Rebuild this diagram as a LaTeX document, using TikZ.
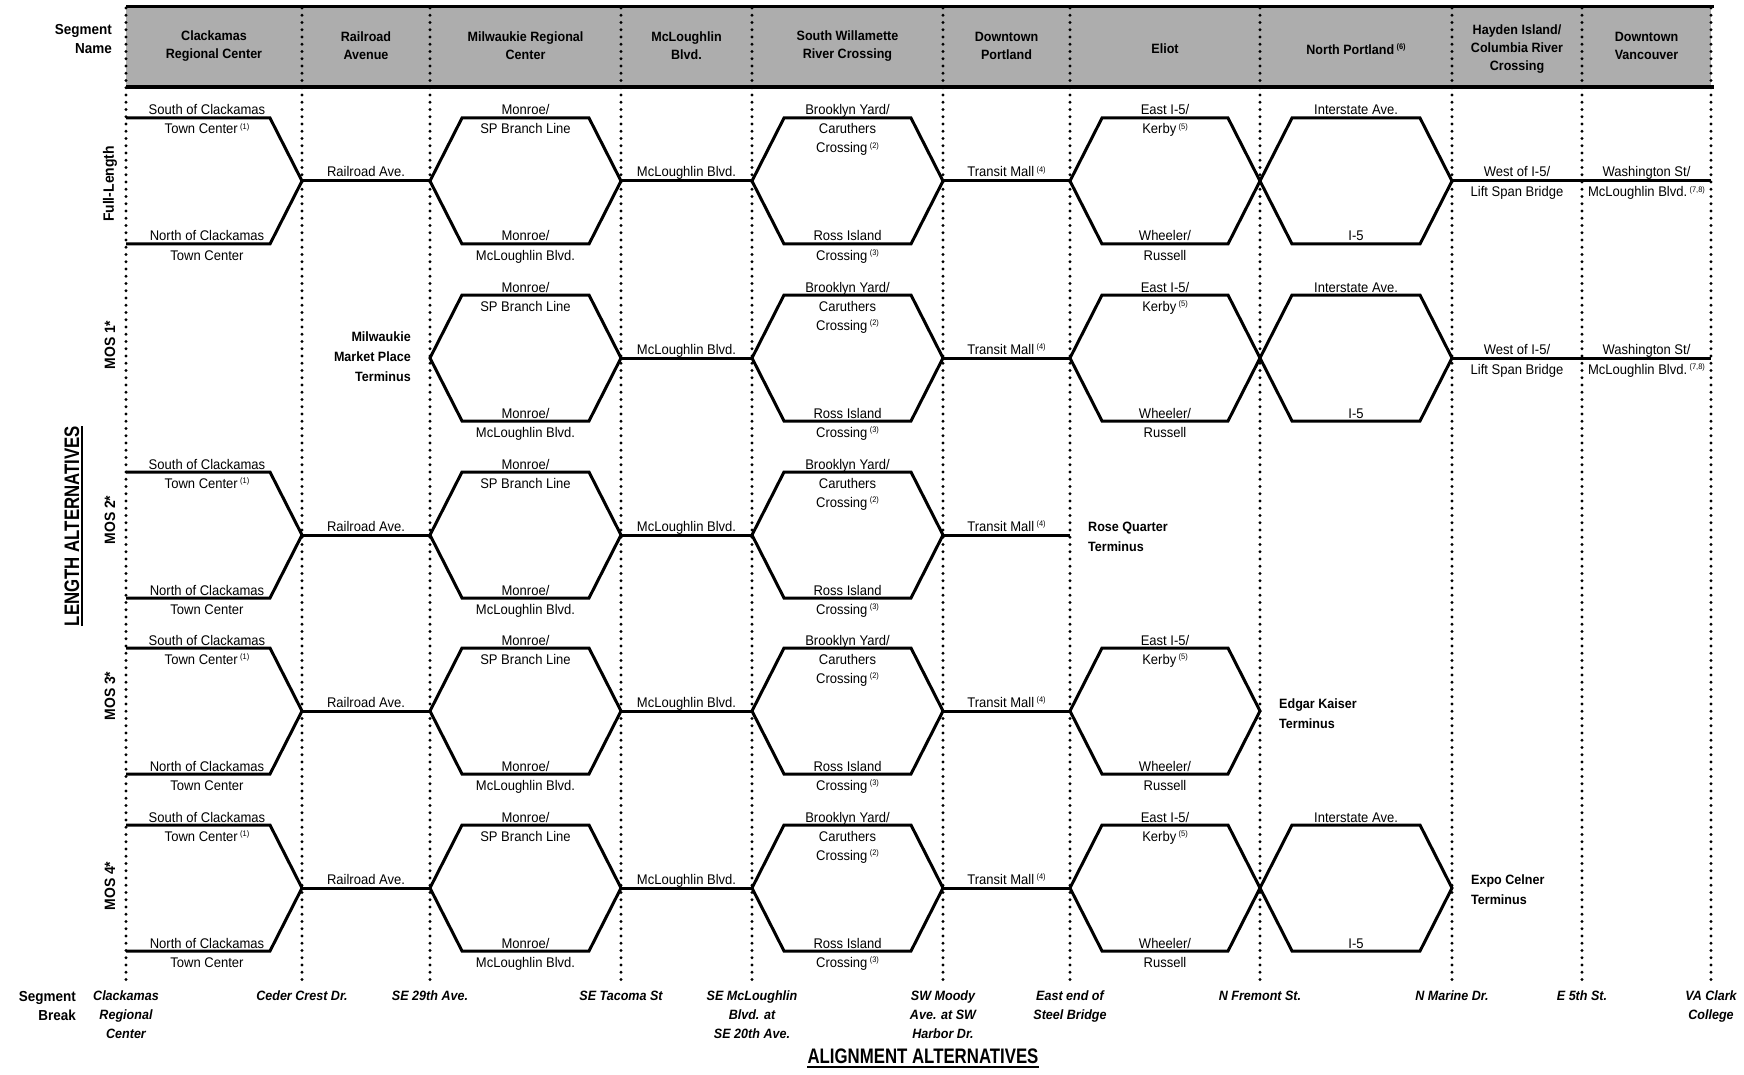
\documentclass[tikz,border=0pt]{standalone}
\usepackage{fontspec}
\setmainfont{Liberation Sans}[FakeStretch=0.93]
\newfontfamily\titlef{Liberation Sans}[FakeStretch=0.8]
\usetikzlibrary{calc}
\newcommand\fnm[1]{\,\raisebox{4.5pt}{\fontsize{8}{8}\selectfont(#1)}}
\newcommand\hexseg[3]{\draw[route] (r#1-#2) -- ($(r#1-#2)+(32,-63)$) -- ($(r#1-#3)+(-32,-63)$) -- (r#1-#3) -- ($(r#1-#3)+(-32,63)$) -- ($(r#1-#2)+(32,63)$) -- cycle;}
\newcommand\straightseg[3]{\draw[route] (r#1-#2) -- (r#1-#3);}
\newcommand\clack[1]{%
 \draw[route] ($(r#1-1)+(0,-63)$) -- ($(r#1-2)+(-32,-63)$) -- (r#1-2) -- ($(r#1-2)+(-32,63)$) -- ($(r#1-1)+(0,63)$);
 \coordinate (cm#1) at ($(r#1-1)+(81,0)$);
 \node[lbl] (cla#1) at ($(cm#1)+(0,-66)$) {South of Clackamas};
 \node[lbl] (clb#1) at ($(cm#1)+(0,-47)$) {Town Center\fnm{1}};
 \node[lbl] (clc#1) at ($(cm#1)+(0,60)$) {North of Clackamas};
 \node[lbl] (cld#1) at ($(cm#1)+(0,79)$) {Town Center};
 \straightseg{#1}{2}{3}
 \node[lbl] (rra#1) at ($(r#1-2)!.5!(r#1-3)+(0,-4)$) {Railroad Ave.};}
\newcommand\milw[1]{%
 \hexseg{#1}{3}{4}
 \coordinate (mm#1) at ($(r#1-3)!.5!(r#1-4)$);
 \node[lbl] (mwa#1) at ($(mm#1)+(0,-66)$) {Monroe/};
 \node[lbl] (mwb#1) at ($(mm#1)+(0,-47)$) {SP Branch Line};
 \node[lbl] (mwc#1) at ($(mm#1)+(0,60)$) {Monroe/};
 \node[lbl] (mwd#1) at ($(mm#1)+(0,79)$) {McLoughlin Blvd.};}
\newcommand\mcl[1]{%
 \straightseg{#1}{4}{5}
 \node[lbl] (mcl#1) at ($(r#1-4)!.5!(r#1-5)+(0,-4)$) {McLoughlin Blvd.};}
\newcommand\swr[1]{%
 \hexseg{#1}{5}{6}
 \coordinate (sm#1) at ($(r#1-5)!.5!(r#1-6)$);
 \node[lbl] (swa#1) at ($(sm#1)+(0,-66)$) {Brooklyn Yard/};
 \node[lbl] (swb#1) at ($(sm#1)+(0,-47)$) {Caruthers};
 \node[lbl] (swc#1) at ($(sm#1)+(0,-28)$) {Crossing\fnm{2}};
 \node[lbl] (swd#1) at ($(sm#1)+(0,60)$) {Ross Island};
 \node[lbl] (swe#1) at ($(sm#1)+(0,79)$) {Crossing\fnm{3}};}
\newcommand\transit[1]{%
 \straightseg{#1}{6}{7}
 \node[lbl] (tm#1) at ($(r#1-6)!.5!(r#1-7)+(0,-4)$) {Transit Mall\fnm{4}};}
\newcommand\eliot[1]{%
 \hexseg{#1}{7}{8}
 \coordinate (em#1) at ($(r#1-7)!.5!(r#1-8)$);
 \node[lbl] (ela#1) at ($(em#1)+(0,-66)$) {East I-5/};
 \node[lbl] (elb#1) at ($(em#1)+(0,-47)$) {Kerby\fnm{5}};
 \node[lbl] (elc#1) at ($(em#1)+(0,60)$) {Wheeler/};
 \node[lbl] (eld#1) at ($(em#1)+(0,79)$) {Russell};}
\newcommand\nport[1]{%
 \hexseg{#1}{8}{9}
 \coordinate (nm#1) at ($(r#1-8)!.5!(r#1-9)$);
 \node[lbl] (npa#1) at ($(nm#1)+(0,-66)$) {Interstate Ave.};
 \node[lbl] (npb#1) at ($(nm#1)+(0,60)$) {I-5};}
\newcommand\westseg[1]{%
 \straightseg{#1}{9}{11}
 \node[lbl] (wa#1) at ($(r#1-9)!.5!(r#1-10)+(0,-4)$) {West of I-5/};
 \node[lbl] (wb#1) at ($(r#1-9)!.5!(r#1-10)+(0,16)$) {Lift Span Bridge};
 \node[lbl] (wc#1) at ($(r#1-10)!.5!(r#1-11)+(0,-4)$) {Washington St/};
 \node[lbl] (wd#1) at ($(r#1-10)!.5!(r#1-11)+(0,16)$) {McLoughlin Blvd.\fnm{7,8}};}
\begin{document}
\begin{tikzpicture}[x=1pt,y=-1pt,
  route/.style={line width=3pt, line join=miter},
  dotl/.style={line width=3.3pt, line cap=round, dash pattern=on 0pt off 7.25pt},
  lbl/.style={font=\fontsize{14}{16}\selectfont, inner sep=0pt, anchor=base},
  hdr/.style={font=\bfseries\fontsize{13.5}{18}\selectfont, align=center, inner sep=0pt},
  brk/.style={font=\bfseries\itshape\fontsize{13.5}{19}\selectfont, align=center, inner sep=0pt, anchor=north},
  term/.style={font=\bfseries\fontsize{13.5}{20}\selectfont, inner sep=0pt},
  rowl/.style={font=\bfseries\fontsize{15}{17}\selectfont, rotate=90, inner sep=0pt},
  sidel/.style={font=\bfseries\fontsize{14.5}{19}\selectfont, align=right, inner sep=0pt, anchor=north east},
  bigt/.style={font=\titlef\bfseries\fontsize{21}{21}\selectfont, inner sep=0pt}]
\useasboundingbox (0,0) rectangle (1744,1075);
\fill[white] (0,0) rectangle (1744,1075);
% header band
\fill[black!32] (126,7) rectangle (1711,87);
\draw[line width=3pt] (126,7) -- (1714,7);
\draw[line width=3.4pt] (126,87) -- (1714,87);
% junction coordinates
\foreach \r/\y in {1/181,2/358,3/535,4/711,5/888}{
  \foreach \c/\x in {1/126,2/302,3/430,4/621,5/752,6/943,7/1070,8/1260,9/1452,10/1582,11/1711}{
    \coordinate (r\r-\c) at (\x,\y);
  }
}
% dotted segment breaks
\foreach \x in {126,302,430,621,752,943,1070,1260,1452,1582,1711}{
  \draw[dotl] (\x,8) -- (\x,984);
}
% header labels
\node[hdr] (h1) at (214,46) {Clackamas\\Regional Center};
\node[hdr] (h2) at (366,46) {Railroad\\Avenue};
\node[hdr] (h3) at (525.5,46) {Milwaukie Regional\\Center};
\node[hdr] (h4) at (686.5,46) {McLoughlin\\Blvd.};
\node[hdr] (h5) at (847.5,46) {South Willamette\\River Crossing};
\node[hdr] (h6) at (1006.5,46) {Downtown\\Portland};
\node[hdr] (h7) at (1165,49) {Eliot};
\node[hdr] (h8) at (1356,49) {North Portland\fnm{6}};
\node[hdr] (h9) at (1517,49) {Hayden Island/\\Columbia River\\Crossing};
\node[hdr] (h10) at (1646.5,46) {Downtown\\Vancouver};
\node[sidel] (segname) at (112,24.5) {Segment\\Name};
% row 1 full-length
\clack{1}\milw{1}\mcl{1}\swr{1}\transit{1}\eliot{1}\nport{1}\westseg{1}
% row 2 MOS 1
\milw{2}\mcl{2}\swr{2}\transit{2}\eliot{2}\nport{2}\westseg{2}
\node[term, align=right, anchor=north east] (mmpt) at (411,332) {Milwaukie\\Market Place\\Terminus};
% row 3 MOS 2
\clack{3}\milw{3}\mcl{3}\swr{3}\transit{3}
\node[term, align=left, anchor=north west] (rqt) at (1088,522) {Rose Quarter\\Terminus};
% row 4 MOS 3
\clack{4}\milw{4}\mcl{4}\swr{4}\transit{4}\eliot{4}
\node[term, align=left, anchor=north west] (ekt) at (1279,699) {Edgar Kaiser\\Terminus};
% row 5 MOS 4
\clack{5}\milw{5}\mcl{5}\swr{5}\transit{5}\eliot{5}\nport{5}
\node[term, align=left, anchor=north west] (ect) at (1471,875) {Expo Celner\\Terminus};
% row labels
\node[rowl] (fl) at (110,184) {Full-Length};
\node[rowl] (mos1) at (110,345) {MOS 1*};
\node[rowl] (mos2) at (110,520) {MOS 2*};
\node[rowl] (mos3) at (110,696) {MOS 3*};
\node[rowl] (mos4) at (110,886) {MOS 4*};
\node[bigt, rotate=90] (lenalt) at (72,526) {LENGTH ALTERNATIVES};
\draw[line width=1.8pt] ([xshift=2.5pt]lenalt.south west) -- ([xshift=2.5pt]lenalt.south east);
% segment breaks
\node[sidel] (segbrk) at (76,991.5) {Segment\\Break};
\node[brk] (b1) at (126,991) {Clackamas\\Regional\\Center};
\node[brk] (b2) at (302,991) {Ceder Crest Dr.};
\node[brk] (b3) at (430,991) {SE 29th Ave.};
\node[brk] (b4) at (621,991) {SE Tacoma St};
\node[brk] (b5) at (752,991) {SE McLoughlin\\Blvd. at\\SE 20th Ave.};
\node[brk] (b6) at (943,991) {SW Moody\\Ave. at SW\\Harbor Dr.};
\node[brk] (b7) at (1070,991) {East end of\\Steel Bridge};
\node[brk] (b8) at (1260,991) {N Fremont St.};
\node[brk] (b9) at (1452,991) {N Marine Dr.};
\node[brk] (b10) at (1582,991) {E 5th St.};
\node[brk] (b11) at (1711,991) {VA Clark\\College};
\node[bigt] (alalt) at (923,1056) {ALIGNMENT ALTERNATIVES};
\draw[line width=1.8pt] ([yshift=-3pt]alalt.south west) -- ([yshift=-3pt]alalt.south east);
\end{tikzpicture}
\end{document}
